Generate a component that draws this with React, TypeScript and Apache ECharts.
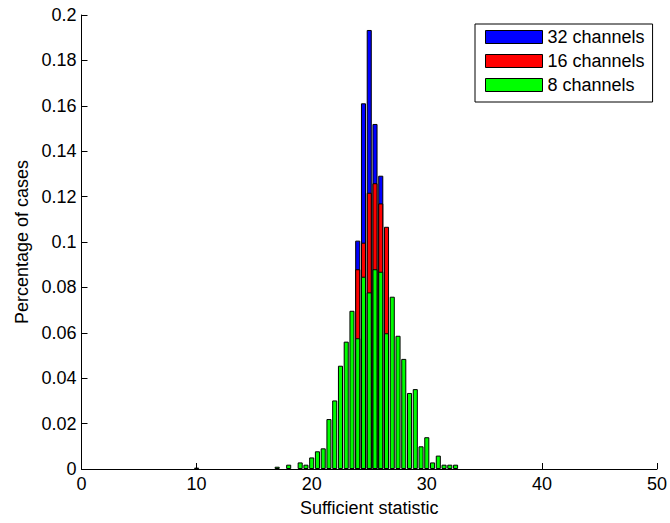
import React, { useEffect, useRef } from "react";
import * as echarts from "echarts";

// Bin centres of the histogram (width 0.5)
const binCenters = [10, 17, 18, 19, 19.5, 20, 20.5, 21, 21.5, 22, 22.5, 23, 23.5, 24, 24.5, 25, 25.5, 26, 26.5, 27, 27.5, 28, 28.5, 29, 29.5, 30, 30.5, 31, 31.5, 32, 32.5];
// 8 channels (front, green)
const green8 = [0.0006, 0.001, 0.0019, 0.0029, 0.0019, 0.0051, 0.0078, 0.0091, 0.022, 0.0302, 0.0455, 0.0561, 0.0697, 0.0576, 0.0847, 0.0778, 0.088, 0.0869, 0.0598, 0.0759, 0.0587, 0.0485, 0.0335, 0.0352, 0.01, 0.014, 0.0029, 0.0059, 0.0019, 0.0019, 0.0019];
// 16 channels (middle, red) – only the visible part
const redCenters = [24, 24.5, 25, 25.5, 26, 26.5];
const red16 = [0.088, 0.0997, 0.1217, 0.1259, 0.117, 0.1067];
// 32 channels (back, blue) – only the visible part
const blueCenters = [24, 24.5, 25, 25.5, 26];
const blue32 = [0.1006, 0.1611, 0.1934, 0.152, 0.1292];

const seriesNames = ["32 channels", "16 channels", "8 channels"];
const seriesColors = ["#0000ff", "#ff0000", "#00ff00"];

const xMin = 0;
const xMax = 50;
const xStep = 10;
const yMin = 0;
const yMax = 0.2;
const yStep = 0.02;

const xLabel = "Sufficient statistic";
const yLabel = "Percentage of cases";

export default function App() {
  const ref = useRef<HTMLDivElement>(null);
  useEffect(() => {
    const chart = echarts.init(ref.current!, null, { renderer: "svg" });
    const font = "'Liberation Sans', Arial, sans-serif";
    const pairs = (xs: number[], ys: number[]) => xs.map((x, i) => [x, ys[i]]);
    const datasets = [pairs(blueCenters, blue32), pairs(redCenters, red16), pairs(binCenters, green8)];
    chart.setOption({
      animation: false,
      textStyle: { fontFamily: font },
      grid: { left: 81.5, right: 11, top: 15, bottom: 54, containLabel: false },
      legend: {
        orient: "vertical",
        left: 475,
        top: 24,
        itemWidth: 57,
        itemHeight: 13,
        itemGap: 6,
        padding: [4, 8, 8, 10],
        backgroundColor: "#fff",
        borderColor: "#000",
        borderWidth: 1,
        borderRadius: 0,
        icon: "rect",
        itemStyle: { borderColor: "#000", borderWidth: 1 },
        textStyle: { fontFamily: font, fontSize: 18, color: "#000" },
        data: seriesNames,
      },
      xAxis: {
        type: "value",
        min: xMin,
        max: xMax,
        interval: xStep,
        name: xLabel,
        nameLocation: "middle",
        nameGap: 30,
        nameTextStyle: { fontFamily: font, fontSize: 18, color: "#000" },
        axisLine: { show: true, lineStyle: { color: "#000", width: 1 } },
        axisTick: { show: true, inside: true, length: 6, lineStyle: { color: "#000" } },
        axisLabel: { fontFamily: font, fontSize: 18, color: "#000", margin: 6 },
        splitLine: { show: false },
      },
      yAxis: {
        type: "value",
        min: yMin,
        max: yMax,
        interval: yStep,
        name: yLabel,
        nameLocation: "middle",
        nameGap: 50,
        nameTextStyle: { fontFamily: font, fontSize: 18, color: "#000" },
        axisLine: { show: true, lineStyle: { color: "#000", width: 1 } },
        axisTick: { show: true, inside: true, length: 6, lineStyle: { color: "#000" } },
        axisLabel: {
          fontFamily: font,
          fontSize: 18,
          color: "#000",
          margin: 5,
          formatter: (v: number) => String(+v.toFixed(2)),
        },
        splitLine: { show: false },
      },
      series: datasets.map((d, i) => ({
        type: "bar",
        name: seriesNames[i],
        data: d,
        barWidth: "88%",
        barGap: "-100%",
        itemStyle: { color: seriesColors[i], borderColor: "#000", borderWidth: 1 },
        emphasis: { disabled: true },
      })),
    });
    return () => chart.dispose();
  }, []);
  return <div ref={ref} style={{ position: "absolute", left: 0, top: 0, width: 670, height: 523 }} />;
}
